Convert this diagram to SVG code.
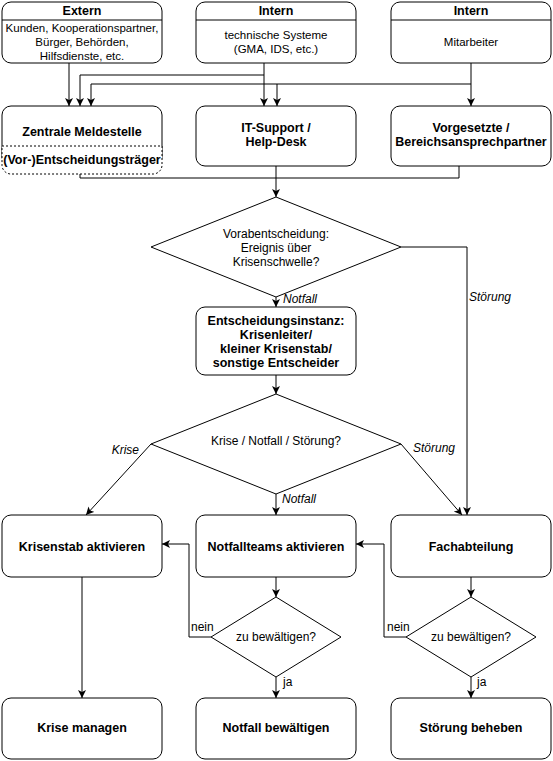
<svg xmlns="http://www.w3.org/2000/svg" width="553" height="761" viewBox="0 0 553 761">
  <style>
    .box { fill: #ffffff; stroke: #000000; stroke-width: 1; }
    .dot { fill: #ffffff; stroke: #000000; stroke-width: 1; stroke-dasharray: 2 2; }
    .edge { fill: none; stroke: #000000; stroke-width: 1; }
    text { font-family: "Liberation Sans", Arial, Helvetica, sans-serif; fill: #000000; }
    .b { font-size: 12.5px; font-weight: bold; text-anchor: middle; }
    .s { font-size: 11.5px; text-anchor: middle; }
    .n { font-size: 12px; text-anchor: middle; }
    .lbl { font-size: 12px; font-style: italic; }
    .lbn { font-size: 12px; }
  </style>
  <defs>
    <marker id="arrow" markerWidth="10" markerHeight="10" refX="8" refY="4" orient="auto" markerUnits="userSpaceOnUse">
      <path d="M0,0 L8,4 L0,8 L2,4 Z" fill="#000000"/>
    </marker>
  </defs>
  <rect width="553" height="761" fill="#ffffff"/>

  <!-- connectors -->
  <g id="connectors">
    <path class="edge" d="M69,63 V106" marker-end="url(#arrow)"/>
    <path class="edge" d="M264,63 V75 H80 V106" marker-end="url(#arrow)"/>
    <path class="edge" d="M264,75 V106" marker-end="url(#arrow)"/>
    <path class="edge" d="M471,63 V84 H91 V106" marker-end="url(#arrow)"/>
    <path class="edge" d="M277,84 V106" marker-end="url(#arrow)"/>
    <path class="edge" d="M471,84 V106" marker-end="url(#arrow)"/>
    <path class="edge" d="M80,174 V178 H459 V166"/>
    <path class="edge" d="M276,166 V197" marker-end="url(#arrow)"/>
    <path class="edge" d="M276,297 V307" marker-end="url(#arrow)"/>
    <path class="edge" d="M401,247 H467 V515" marker-end="url(#arrow)"/>
    <path class="edge" d="M276,375 V394" marker-end="url(#arrow)"/>
    <path class="edge" d="M151,444 L86,515" marker-end="url(#arrow)"/>
    <path class="edge" d="M276,494 V515" marker-end="url(#arrow)"/>
    <path class="edge" d="M401,444 L462,515" marker-end="url(#arrow)"/>
    <path class="edge" d="M82,577 V698" marker-end="url(#arrow)"/>
    <path class="edge" d="M276,577 V597" marker-end="url(#arrow)"/>
    <path class="edge" d="M471,577 V597" marker-end="url(#arrow)"/>
    <path class="edge" d="M211,637 H189 V544 H162" marker-end="url(#arrow)"/>
    <path class="edge" d="M406,637 H384 V544 H356" marker-end="url(#arrow)"/>
    <path class="edge" d="M276,677 V698" marker-end="url(#arrow)"/>
    <path class="edge" d="M471,677 V698" marker-end="url(#arrow)"/>
    <text class="lbl" x="283" y="303">Notfall</text>
    <text class="lbl" x="469" y="301">Störung</text>
    <text class="lbl" x="139" y="454" text-anchor="end">Krise</text>
    <text class="lbl" x="413" y="452">Störung</text>
    <text class="lbl" x="282" y="503">Notfall</text>
    <text class="lbn" x="191" y="631">nein</text>
    <text class="lbn" x="387" y="631">nein</text>
    <text class="lbn" x="283" y="686">ja</text>
    <text class="lbn" x="477" y="686">ja</text>
  </g>

  <!-- sources -->
  <g id="extern">
    <rect class="box" x="2" y="2" width="160" height="61" rx="9"/>
    <line class="edge" x1="2" y1="20" x2="162" y2="20"/>
    <text class="b" x="82" y="15">Extern</text>
    <text class="s" x="82" y="32">Kunden, Kooperationspartner,</text>
    <text class="s" x="82" y="46">Bürger, Behörden,</text>
    <text class="s" x="82" y="60">Hilfsdienste, etc.</text>
  </g>
  <g id="intern-systeme">
    <rect class="box" x="196" y="2" width="160" height="61" rx="9"/>
    <line class="edge" x1="196" y1="20" x2="356" y2="20"/>
    <text class="b" x="276" y="15">Intern</text>
    <text class="s" x="276" y="39">technische Systeme</text>
    <text class="s" x="276" y="53">(GMA, IDS, etc.)</text>
  </g>
  <g id="intern-mitarbeiter">
    <rect class="box" x="391" y="2" width="160" height="61" rx="9"/>
    <line class="edge" x1="391" y1="20" x2="551" y2="20"/>
    <text class="b" x="471" y="15">Intern</text>
    <text class="s" x="471" y="46">Mitarbeiter</text>
  </g>

  <!-- receiving points -->
  <g id="meldestelle">
    <rect class="box" x="2" y="106" width="160" height="60" rx="9"/>
    <path class="dot" d="M2,146 H162 V165 A9,9 0 0 1 153,174 H11 A9,9 0 0 1 2,165 Z"/>
    <text class="b" x="82" y="136">Zentrale Meldestelle</text>
    <text class="b" x="82" y="164">(Vor-)Entscheidungsträger</text>
  </g>
  <g id="helpdesk">
    <rect class="box" x="196" y="106" width="160" height="60" rx="9"/>
    <text class="b" x="276" y="132">IT-Support /</text>
    <text class="b" x="276" y="146">Help-Desk</text>
  </g>
  <g id="vorgesetzte">
    <rect class="box" x="391" y="106" width="160" height="60" rx="9"/>
    <text class="b" x="471" y="132">Vorgesetzte /</text>
    <text class="b" x="471" y="146">Bereichsansprechpartner</text>
  </g>

  <!-- decisions -->
  <g id="vorabentscheidung">
    <polygon class="box" points="151,247 276,197 401,247 276,297"/>
    <text class="n" x="276" y="238">Vorabentscheidung:</text>
    <text class="n" x="276" y="252">Ereignis über</text>
    <text class="n" x="276" y="266">Krisenschwelle?</text>
  </g>
  <g id="entscheidungsinstanz">
    <rect class="box" x="196" y="307" width="160" height="68" rx="9"/>
    <text class="b" x="276" y="325">Entscheidungsinstanz:</text>
    <text class="b" x="276" y="339">Krisenleiter/</text>
    <text class="b" x="276" y="353">kleiner Krisenstab/</text>
    <text class="b" x="276" y="367">sonstige Entscheider</text>
  </g>
  <g id="einstufung">
    <polygon class="box" points="151,444 276,394 401,444 276,494"/>
    <text class="n" x="276" y="445">Krise / Notfall / Störung?</text>
  </g>

  <!-- response -->
  <g id="krisenstab">
    <rect class="box" x="2" y="515" width="160" height="62" rx="9"/>
    <text class="b" x="82" y="551">Krisenstab aktivieren</text>
  </g>
  <g id="notfallteams">
    <rect class="box" x="196" y="515" width="160" height="62" rx="9"/>
    <text class="b" x="276" y="551">Notfallteams aktivieren</text>
  </g>
  <g id="fachabteilung">
    <rect class="box" x="391" y="515" width="160" height="62" rx="9"/>
    <text class="b" x="471" y="551">Fachabteilung</text>
  </g>
  <g id="notfall-check">
    <polygon class="box" points="211,637 276,597 341,637 276,677"/>
    <text class="n" x="276" y="641">zu bewältigen?</text>
  </g>
  <g id="stoerung-check">
    <polygon class="box" points="406,637 471,597 536,637 471,677"/>
    <text class="n" x="471" y="641">zu bewältigen?</text>
  </g>
  <g id="krise-managen">
    <rect class="box" x="2" y="698" width="160" height="61" rx="9"/>
    <text class="b" x="82" y="732">Krise managen</text>
  </g>
  <g id="notfall-bewaeltigen">
    <rect class="box" x="196" y="698" width="160" height="61" rx="9"/>
    <text class="b" x="276" y="732">Notfall bewältigen</text>
  </g>
  <g id="stoerung-beheben">
    <rect class="box" x="391" y="698" width="160" height="61" rx="9"/>
    <text class="b" x="471" y="732">Störung beheben</text>
  </g>
</svg>
